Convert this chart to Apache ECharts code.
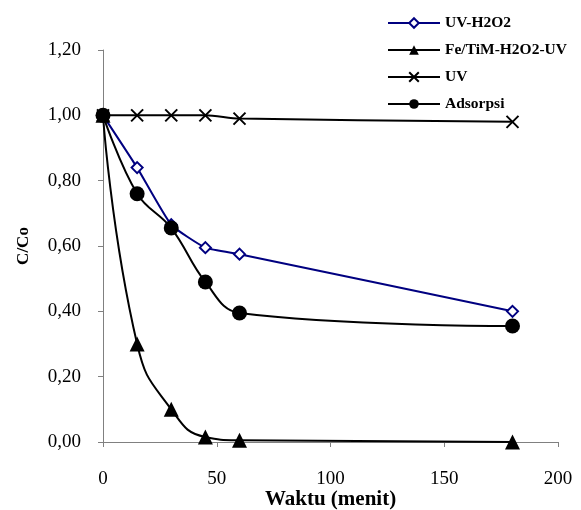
<!DOCTYPE html>
<html lang="en">
<head>
    <meta charset="UTF-8">
    <title>C/Co vs Waktu</title>
    <script src="https://cdn.jsdelivr.net/npm/echarts@6/dist/echarts.min.js"></script>
    <style>
        html, body { margin: 0; padding: 0; background: #fff; }
        #main { width: 581px; height: 510px; }
    </style>
</head>
<body>
<div id="main"></div>
<script type="text/javascript">
    // waktu (menit)
    var waktu = [0, 15, 30, 45, 60, 180];
    var uvH2o2 = [1.00, 0.84, 0.665, 0.595, 0.575, 0.40];
    var feTim = [1.00, 0.30, 0.10, 0.015, 0.005, 0.00];
    var uv = [1.00, 1.00, 1.00, 1.00, 0.99, 0.98];
    var adsorpsi = [1.00, 0.76, 0.655, 0.49, 0.395, 0.355];

    function pairs(ys) {
        var out = [];
        for (var i = 0; i < waktu.length; i++) {
            out.push([waktu[i], ys[i]]);
        }
        return out;
    }

    var serif = 'Liberation Serif';
    var myChart = echarts.init(document.getElementById('main'));
    myChart.setOption({
        animation: false,
        legend: {
            orient: 'vertical',
            left: 382,
            top: 10,
            itemWidth: 52,
            itemHeight: 12,
            itemGap: 11,
            textStyle: { fontFamily: serif, fontWeight: 'bold', fontSize: 15.5, color: '#000' },
            data: ['UV-H2O2', 'Fe/TiM-H2O2-UV', 'UV', 'Adsorpsi']
        },
        grid: { left: 103, right: 23, top: 50, bottom: 68, outerBoundsMode: 'none' },
        xAxis: {
            type: 'value',
            min: 0, max: 200, interval: 50,
            name: 'Waktu (menit)',
            nameLocation: 'middle',
            nameGap: 47,
            nameMoveOverlap: false,
            nameTextStyle: { fontFamily: serif, fontWeight: 'bold', fontSize: 21, color: '#000' },
            axisLine: { lineStyle: { color: '#808080' } },
            axisTick: { inside: false, length: 5, lineStyle: { color: '#808080' } },
            axisLabel: { fontFamily: serif, fontSize: 19, color: '#000', margin: 28 },
            splitLine: { show: false }
        },
        yAxis: {
            type: 'value',
            min: 0, max: 1.2, interval: 0.2,
            name: 'C/Co',
            nameLocation: 'middle',
            nameGap: 71,
            nameMoveOverlap: false,
            nameTextStyle: { fontFamily: serif, fontWeight: 'bold', fontSize: 17, color: '#000' },
            axisLine: { show: true, lineStyle: { color: '#808080' } },
            axisTick: { show: true, inside: false, length: 5, lineStyle: { color: '#808080' } },
            axisLabel: {
                fontFamily: serif, fontSize: 19, color: '#000', margin: 22,
                formatter: function (v) { return v.toFixed(2).replace('.', ','); }
            },
            splitLine: { show: false }
        },
        series: [
            {
                name: 'UV-H2O2',
                type: 'line',
                smooth: 0.15,
                symbol: 'emptyDiamond',
                symbolSize: 11,
                lineStyle: { color: '#000080', width: 2 },
                itemStyle: { color: '#000080', borderColor: '#000080', borderWidth: 1.5 },
                data: pairs(uvH2o2),
                z: 3
            },
            {
                name: 'Fe/TiM-H2O2-UV',
                type: 'line',
                smooth: 0.5,
                symbol: 'triangle',
                symbolSize: 15,
                lineStyle: { color: '#000', width: 2 },
                itemStyle: { color: '#000' },
                data: pairs(feTim)
            },
            {
                name: 'UV',
                type: 'line',
                smooth: 0.3,
                symbol: 'path://M0,0 L10,10 M10,0 L0,10',
                symbolSize: 12,
                lineStyle: { color: '#000', width: 2 },
                itemStyle: { color: 'none', borderColor: '#000', borderWidth: 2 },
                data: pairs(uv)
            },
            {
                name: 'Adsorpsi',
                type: 'line',
                smooth: 0.4,
                symbol: 'circle',
                symbolSize: 15,
                lineStyle: { color: '#000', width: 2 },
                itemStyle: { color: '#000' },
                data: pairs(adsorpsi)
            }
        ]
    });
</script>
</body>
</html>
